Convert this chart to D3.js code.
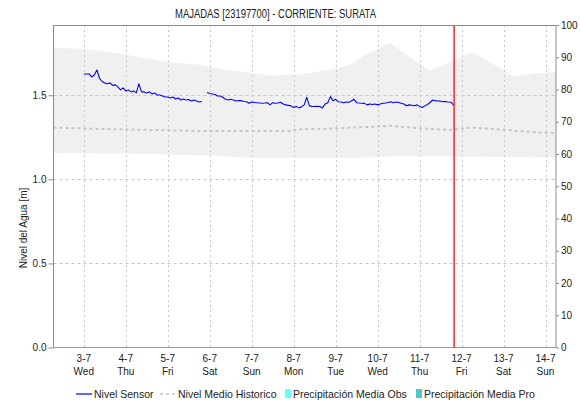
<!DOCTYPE html>
<html><head><meta charset="utf-8">
<script src="https://cdn.jsdelivr.net/npm/d3@7"></script>
<style>
html,body{margin:0;padding:0;background:#fff;}
svg{display:block;font-family:"Liberation Sans",Arial,sans-serif;}
</style></head><body>
<svg id="chart" width="580" height="401"></svg>
<script>
const parse = d3.timeParse("%Y-%m-%d %H:%M");

// time window and reference mark
const xStart = "2024-07-02 06:40";
const xEnd = "2024-07-14 06:00";
const nowMark = "2024-07-11 19:45";

const levelTicks = [0, 0.5, 1.0, 1.5];
const precipTicks = [0, 10, 20, 30, 40, 50, 60, 70, 80, 90, 100];

// sensor water level (m), one reading every 90 minutes, in two runs
const sensorStepMinutes = 90;
const run1Start = "2024-07-03 00:00";
const run1Levels = [
  1.627,1.627,1.627,1.609,1.621,1.651,1.600,1.582,1.573,1.568,1.573,1.559,1.562,1.550,1.532,1.544,
  1.526,1.532,1.520,1.526,1.514,1.568,1.520,1.520,1.514,1.520,1.508,1.514,1.502,1.502,1.496,1.490,
  1.490,1.484,1.490,1.478,1.484,1.472,1.478,1.472,1.475,1.466,1.472,1.466,1.460,1.463
];
const run2Start = "2024-07-05 22:30";
const run2Levels = [
  1.516,
  1.511,1.508,1.505,1.496,1.496,1.488,1.476,1.472,1.476,1.472,1.466,1.469,1.468,1.463,1.462,1.453,
  1.460,1.457,1.456,1.454,1.453,1.454,1.456,1.443,1.456,1.453,1.454,1.459,1.448,1.443,1.440,1.437,
  1.427,1.434,1.425,1.431,1.443,1.488,1.437,1.433,1.433,1.434,1.433,1.425,1.448,1.456,1.492,1.468,
  1.476,1.462,1.460,1.456,1.460,1.459,1.466,1.476,1.456,1.454,1.453,1.452,1.443,1.448,1.445,1.448,
  1.443,1.448,1.453,1.454,1.457,1.462,1.456,1.460,1.457,1.453,1.448,1.438,1.443,1.441,1.438,1.443,
  1.434,1.427,1.437,1.445,1.457,1.472,1.468,1.466,1.465,1.462,1.462,1.460,1.459,1.440
];

// historic mean level (m)
const meanTimes = [
  "2024-07-02 06:40","2024-07-03 09:00","2024-07-04 14:00","2024-07-05 18:00","2024-07-07 23:00",
  "2024-07-08 02:00","2024-07-08 21:00","2024-07-09 20:00","2024-07-10 07:00","2024-07-11 00:00",
  "2024-07-11 17:00","2024-07-12 06:00","2024-07-13 06:00","2024-07-13 21:00","2024-07-14 06:00"
];
const meanLevels = [1.308,1.300,1.294,1.288,1.288,1.298,1.302,1.312,1.319,1.304,1.294,1.308,1.290,1.278,1.276];

// historic range: upper and lower envelope (m)
const upperTimes = [
  "2024-07-02 06:40","2024-07-03 00:00","2024-07-04 00:00","2024-07-05 00:00","2024-07-05 18:00",
  "2024-07-06 06:00","2024-07-07 00:00","2024-07-07 09:00","2024-07-08 03:00","2024-07-08 22:00",
  "2024-07-09 08:00","2024-07-09 18:00","2024-07-10 07:00","2024-07-11 06:00","2024-07-12 06:00",
  "2024-07-13 06:00","2024-07-13 20:00","2024-07-14 06:00"
];
const upperLevels = [1.782,1.776,1.743,1.698,1.681,1.657,1.633,1.618,1.624,1.654,1.681,1.746,1.811,1.645,1.758,1.612,1.633,1.639];
const lowerTimes = [
  "2024-07-02 06:40","2024-07-04 00:00","2024-07-06 00:00","2024-07-07 00:00",
  "2024-07-09 12:00","2024-07-10 12:00","2024-07-12 00:00","2024-07-14 06:00"
];
const lowerLevels = [1.157,1.154,1.142,1.127,1.127,1.139,1.136,1.130];

const legendItems = [
  {label: "Nivel Sensor", kind: "line"},
  {label: "Nivel Medio Historico", kind: "dash"},
  {label: "Precipitación Media Obs", kind: "box", color: "#66ffff"},
  {label: "Precipitación Media Pro", kind: "box", color: "#4cc8c8"}
];

const svg = d3.select("#chart");
const L = 53.5, R = 556, T = 25, B = 347.5;

const x = d3.scaleTime().domain([parse(xStart), parse(xEnd)]).range([L, R]);
const y = d3.scaleLinear().domain([0, 1.918]).range([B, T]);
const yR = d3.scaleLinear().domain([0, 100]).range([B, T]);

// historic range band
const upperPts = upperTimes.map((t, i) => [x(parse(t)), y(upperLevels[i])]);
const lowerPts = lowerTimes.map((t, i) => [x(parse(t)), y(lowerLevels[i])]).reverse();
svg.append("path")
  .attr("d", d3.line()(upperPts.concat(lowerPts)) + "Z")
  .attr("fill", "#f0f0f0");

// grid
const days = d3.timeDay.range(d3.timeDay.ceil(parse(xStart)), parse(xEnd));
const grid = svg.append("g").attr("stroke", "#c8c8c8").attr("stroke-width", 1);
grid.selectAll("line.v").data(days).join("line")
  .attr("x1", d => Math.round(x(d)) + 0.5).attr("x2", d => Math.round(x(d)) + 0.5)
  .attr("y1", T).attr("y2", B)
  .attr("stroke-dasharray", "2,3");
grid.selectAll("line.h").data(levelTicks.filter(v => v > 0)).join("line")
  .attr("x1", L).attr("x2", R)
  .attr("y1", d => Math.round(y(d)) + 0.5).attr("y2", d => Math.round(y(d)) + 0.5)
  .attr("stroke-dasharray", "3,3");

// historic mean
svg.append("path")
  .attr("d", d3.line().x(t => x(parse(t))).y((t, i) => y(meanLevels[i]))(meanTimes))
  .attr("fill", "none").attr("stroke", "#c6c6c6").attr("stroke-width", 2)
  .attr("stroke-dasharray", "3,3");

// sensor level, each run drawn as its own line
const sensorLine = d3.line().x(d => x(d.t)).y(d => y(d.v));
[[run1Start, run1Levels], [run2Start, run2Levels]].forEach(([start, levels]) => {
  const t0 = parse(start);
  const pts = levels.map((v, i) => ({t: d3.timeMinute.offset(t0, i * sensorStepMinutes), v}));
  svg.append("path")
    .attr("d", sensorLine(pts))
    .attr("fill", "none").attr("stroke", "#0000ff").attr("stroke-width", 1.1)
    .attr("stroke-linejoin", "round");
});

// current time mark
svg.append("line")
  .attr("x1", x(parse(nowMark))).attr("x2", x(parse(nowMark)))
  .attr("y1", T).attr("y2", B)
  .attr("stroke", "#ff2020").attr("stroke-width", 1.5);

// frame
svg.append("line").attr("x1", L).attr("x2", R).attr("y1", T + 0.5).attr("y2", T + 0.5).attr("stroke", "#8c8c8c");
svg.append("line").attr("x1", L).attr("x2", R).attr("y1", B).attr("y2", B)
  .attr("stroke", "#333").attr("stroke-dasharray", "1,1");

// left axis
const axL = svg.append("g").attr("transform", `translate(${L},0)`)
  .call(d3.axisLeft(y).tickValues(levelTicks).tickSize(5).tickPadding(2).tickFormat(d3.format(".1f")));
axL.select(".domain").attr("stroke", "#8c8c8c").attr("d", `M0,${T}V${B}`);
axL.selectAll(".tick line").attr("stroke", "#8c8c8c");
axL.selectAll(".tick text").attr("fill", "#222").style("font-size", "10px").style("font-family", "inherit");

// right axis
const axR = svg.append("g").attr("transform", `translate(${R},0)`)
  .call(d3.axisRight(yR).tickValues(precipTicks).tickSize(3).tickPadding(2));
axR.select(".domain").attr("stroke", "#8c8c8c").attr("d", `M0,${T}V${B}`);
axR.selectAll(".tick line").attr("stroke", "#8c8c8c");
axR.selectAll(".tick text").attr("fill", "#222").style("font-size", "10px").style("font-family", "inherit");

// bottom labels: date and weekday
const fmtDate = d => `${d.getDate()}-${d.getMonth() + 1}`;
const fmtDay = d3.timeFormat("%a");
const xl = svg.append("g").attr("fill", "#222").style("font-size", "10px").attr("text-anchor", "middle");
xl.selectAll("text.d").data(days).join("text")
  .attr("x", d => x(d)).attr("y", 362).text(fmtDate);
xl.selectAll("text.w").data(days).join("text")
  .attr("x", d => x(d)).attr("y", 375).text(fmtDay);

// axis title
svg.append("text")
  .attr("transform", "translate(27,228) rotate(-90)")
  .attr("text-anchor", "middle").attr("fill", "#222").style("font-size", "10px")
  .text("Nivel del Agua [m]");

// chart title, set in a condensed width
svg.append("text")
  .attr("x", 175).attr("y", 18)
  .attr("textLength", 201).attr("lengthAdjust", "spacingAndGlyphs")
  .attr("fill", "#222").style("font-size", "12px")
  .text("MAJADAS [23197700] - CORRIENTE: SURATA");

// legend
const lg = svg.append("g").style("font-size", "10.5px").attr("fill", "#222");
const legendX = [76, 160, 285, 416];
legendItems.forEach((it, i) => {
  const g = lg.append("g").attr("transform", `translate(${legendX[i]},394)`);
  if (it.kind === "line") {
    g.append("line").attr("x1", 0).attr("x2", 16).attr("stroke", "#0000ff").attr("stroke-width", 1.2);
  } else if (it.kind === "dash") {
    g.append("line").attr("x1", 0).attr("x2", 16).attr("stroke", "#c6c6c6").attr("stroke-width", 1.5)
      .attr("stroke-dasharray", "3,3");
  } else {
    g.append("rect").attr("x", 0).attr("y", -5).attr("width", 6).attr("height", 9).attr("fill", it.color);
  }
  g.append("text").attr("x", it.kind === "box" ? 8 : 18).attr("y", 3.5).text(it.label);
});
</script>
</body></html>
